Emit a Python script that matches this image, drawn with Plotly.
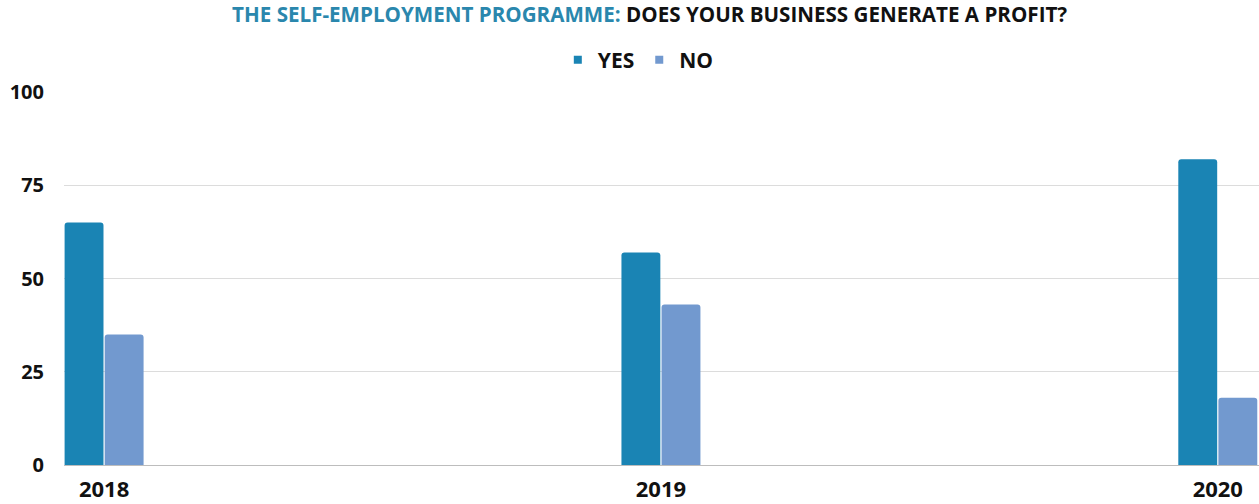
import plotly.graph_objects as go

# Survey results by year (percent of respondents)
years = ["2018", "2019", "2020"]
yes_pct = [65, 57, 82]
no_pct = [35, 43, 18]
series_names = ["YES", "NO"]

YES_COLOR = "#1a84b4"
NO_COLOR = "#7299cf"
FONT = "Open Sans"
TEXT = "#111111"

fig = go.Figure()
for name, vals, color in zip(series_names, [yes_pct, no_pct], [YES_COLOR, NO_COLOR]):
    fig.add_trace(go.Bar(name=name, x=years, y=vals, showlegend=False,
                         marker=dict(color=color, cornerradius=3, line=dict(width=0))))
    # small square swatch for the legend
    fig.add_trace(go.Scatter(name=name, x=[None], y=[None], mode="markers",
                             marker=dict(symbol="square", size=8, color=color),
                             showlegend=True, hoverinfo="skip"))

fig.update_layout(
    width=1259, height=504,
    margin=dict(l=64, r=0, t=92, b=39, autoexpand=False),
    paper_bgcolor="white", plot_bgcolor="white",
    font=dict(family=FONT, color=TEXT),
    barmode="group", bargap=0.856, bargroupgap=0.03,
    showlegend=True,
    title=dict(
        text=("<span style='color:#2a87ad'>THE SELF-EMPLOYMENT PROGRAMME:</span> "
              f"<span style='color:{TEXT}'>DOES YOUR BUSINESS GENERATE A PROFIT?</span>"),
        font=dict(family=FONT, size=20.6, weight="bold"),
        x=0.516, xref="container", xanchor="center",
        y=1 - 15 / 504, yref="container", yanchor="middle",
    ),
    legend=dict(
        orientation="h", x=0.507, xref="container", xanchor="center",
        y=1 - 60 / 504, yref="container", yanchor="middle",
        font=dict(family=FONT, size=21, weight="bold", color=TEXT),
        itemwidth=30,
    ),
    xaxis=dict(
        type="category", range=[-0.072, 2.074],
        showgrid=False, showline=True, linecolor="#bdbdbd", linewidth=1,
        ticks="outside", ticklen=5, tickcolor="rgba(0,0,0,0)",
        tickfont=dict(family=FONT, size=22, weight="bold", color=TEXT),
    ),
    yaxis=dict(
        range=[0, 100], tickvals=[0, 25, 50, 75, 100],
        showgrid=True, gridcolor="#dcdcdc", gridwidth=1,
        zeroline=False, showline=False,
        ticks="outside", ticklen=15, tickcolor="rgba(0,0,0,0)",
        tickfont=dict(family=FONT, size=20, weight="bold", color=TEXT),
    ),
)

fig.write_html("out.html")
